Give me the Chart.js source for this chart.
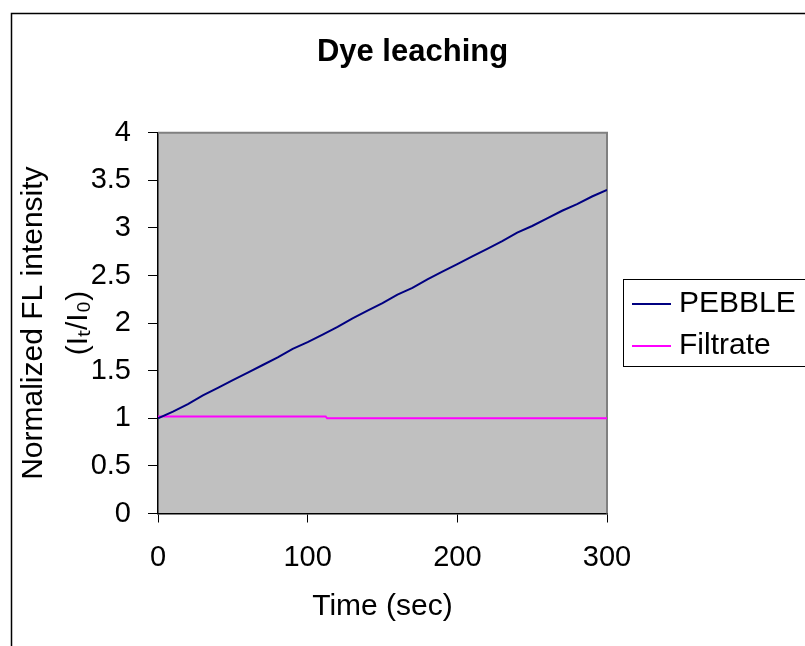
<!DOCTYPE html>
<html><head><meta charset="utf-8">
<script src="https://cdn.jsdelivr.net/npm/chart.js@4"></script>
<style>html,body{margin:0;padding:0;background:#fff;}#wrap{width:805px;height:646px;position:relative;}</style>
</head><body><div id="wrap"><canvas id="c" width="805" height="646"></canvas></div>
<script>
const chartTitle = 'Dye leaching';
const xAxisTitle = 'Time (sec)';
const yAxisTitle = ['Normalized FL intensity', '(I\u209C/I\u2080)'];
const seriesNames = ['PEBBLE', 'Filtrate'];
const pebbleTime = [0,10,20,30,40,50,60,70,80,90,100,110,120,130,140,150,160,170,180,190,200,210,220,230,240,250,260,270,280,290,300];
const pebbleValues = [1.00,1.07,1.15,1.24,1.32,1.40,1.48,1.56,1.64,1.73,1.80,1.88,1.96,2.05,2.13,2.21,2.30,2.37,2.46,2.54,2.62,2.70,2.78,2.86,2.95,3.02,3.10,3.18,3.25,3.33,3.40];
const filtrateTime = [0,112,113,300];
const filtrateValues = [1.02,1.02,1.00,1.00];
const xTicks = [0,100,200,300];
const yTicks = [0,0.5,1,1.5,2,2.5,3,3.5,4];
const seriesColors = ['#000080', '#FF00FF'];

const FONT = '"Liberation Sans", Arial, Helvetica, sans-serif';
Chart.defaults.font.family = FONT;
Chart.defaults.color = '#000';

const decor = {
  id: 'decor',
  beforeDraw(chart) {
    const {ctx, chartArea: a} = chart;
    ctx.save();
    ctx.fillStyle = '#fff';
    ctx.fillRect(0, 0, chart.width, chart.height);
    ctx.strokeStyle = '#000';
    ctx.lineWidth = 1.5;
    ctx.strokeRect(11.5, 13.5, 1000, 1000);
    ctx.fillStyle = '#C0C0C0';
    ctx.fillRect(a.left, a.top, a.right - a.left, a.bottom - a.top);
    ctx.restore();
  },
  beforeDatasetsDraw(chart) {
    const {ctx, chartArea: a} = chart;
    ctx.save();
    ctx.strokeStyle = '#808080';
    ctx.lineWidth = 2;
    ctx.beginPath();
    ctx.moveTo(a.left, a.top);
    ctx.lineTo(a.right, a.top);
    ctx.lineTo(a.right, a.bottom);
    ctx.stroke();
    ctx.restore();
  },
  afterDraw(chart) {
    const {ctx} = chart;
    ctx.save();
    ctx.strokeStyle = '#000';
    ctx.lineWidth = 1;
    ctx.strokeRect(623.5, 279.5, 400, 87);
    const rows = [304, 346];
    ctx.font = '30px ' + FONT;
    ctx.textBaseline = 'middle';
    ctx.textAlign = 'left';
    chart.data.datasets.forEach((ds, i) => {
      ctx.strokeStyle = ds.borderColor;
      ctx.lineWidth = 2;
      ctx.beginPath();
      ctx.moveTo(632, rows[i]);
      ctx.lineTo(671, rows[i]);
      ctx.stroke();
      ctx.fillStyle = '#000';
      ctx.fillText(ds.label, 679, rows[i]);
    });
    ctx.restore();
  }
};

new Chart(document.getElementById('c'), {
  type: 'line',
  data: {
    datasets: [
      {label: seriesNames[0], data: pebbleTime.map((t, i) => ({x: t, y: pebbleValues[i]})), borderColor: seriesColors[0], borderWidth: 2, pointRadius: 0, tension: 0, yAxisID: 'y'},
      {label: seriesNames[1], data: filtrateTime.map((t, i) => ({x: t, y: filtrateValues[i]})), borderColor: seriesColors[1], borderWidth: 2, pointRadius: 0, tension: 0, yAxisID: 'y'}
    ]
  },
  options: {
    responsive: false,
    animation: false,
    layout: {padding: {left: 20, right: 0, top: 0, bottom: 0}},
    plugins: {
      legend: {display: false},
      tooltip: {enabled: false},
      title: {display: true, text: chartTitle, font: {size: 31, weight: 'bold'}, color: '#000', padding: {top: 34, bottom: 61.5}}
    },
    scales: {
      x: {
        type: 'linear', min: 0, max: 300,
        afterBuildTicks: s => { s.ticks = xTicks.map(v => ({value: v})); },
        afterFit: s => { s.height = 132.5; },
        ticks: {font: {size: 29}, padding: 18.4, color: '#000', callback: v => String(v), maxRotation: 0},
        grid: {drawOnChartArea: false, drawTicks: true, tickLength: 9, color: '#000', lineWidth: 1},
        border: {display: true, color: '#000', width: 1.5},
        title: {display: true, text: xAxisTitle, font: {size: 30}, color: '#000', padding: {top: 0, bottom: 21}}
      },
      y: {
        type: 'linear', min: 0, max: 4, position: 'left',
        afterBuildTicks: s => { s.ticks = yTicks.map(v => ({value: v})); },
        afterFit: s => { s.width = 138; },
        ticks: {font: {size: 29}, padding: 17, color: '#000', callback: v => String(v)},
        grid: {drawOnChartArea: false, drawTicks: true, tickLength: 10, color: '#000', lineWidth: 1},
        border: {display: true, color: '#000', width: 1.5},
        title: {display: true, text: yAxisTitle, font: {size: 30, lineHeight: 1.5}, color: '#000', padding: {top: -8.5, bottom: 0}}
      },
      yRight: {
        type: 'linear', min: 0, max: 4, position: 'right', display: true,
        afterFit: s => { s.width = 198; },
        ticks: {display: false},
        grid: {display: false, drawOnChartArea: false, drawTicks: false},
        border: {display: false},
        title: {display: false}
      }
    }
  },
  plugins: [decor]
});
</script></body></html>
